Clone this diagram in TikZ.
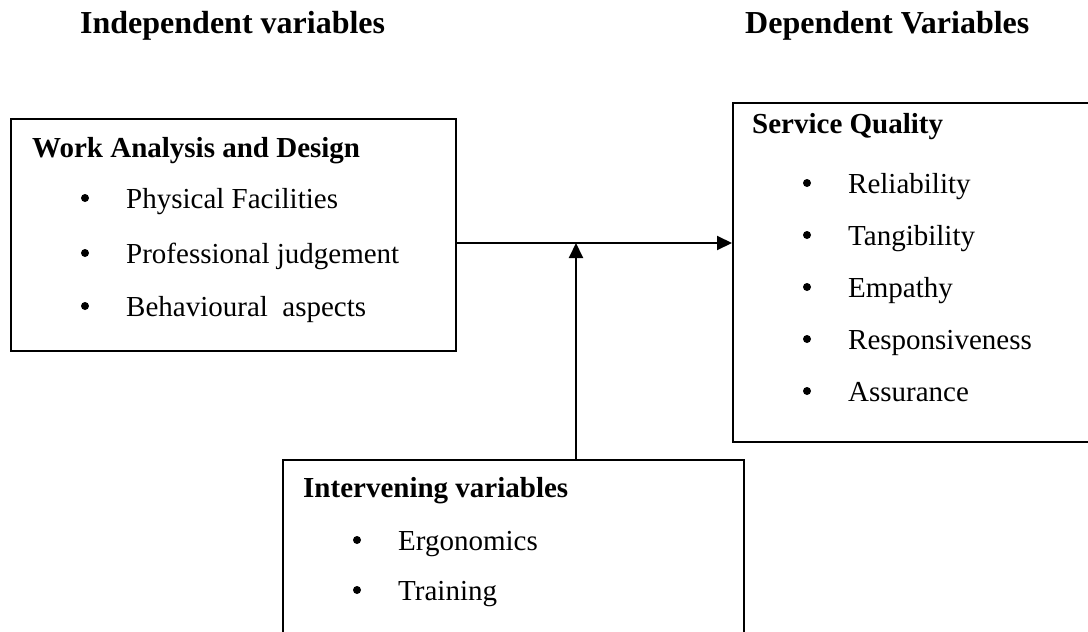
\documentclass[tikz,border=0pt]{standalone}
\usepackage{fontspec}
\setmainfont{Liberation Serif}
\usetikzlibrary{arrows.meta}
\begin{document}
\begin{tikzpicture}[x=1pt,y=-1pt,
  box/.style={draw=black, line width=2pt, inner sep=0pt, anchor=north west},
  txt/.style={inner sep=0pt, anchor=base west, font=\fontsize{29}{35}\selectfont},
  head/.style={txt, font=\fontsize{29}{35}\selectfont\bfseries},
  title/.style={txt, font=\fontsize{32}{38}\selectfont\bfseries},
  bul/.style={circle, fill=black, inner sep=0pt, minimum size=8pt},
  conn/.style={line width=2pt, -{Triangle[length=15pt,width=14pt]}}]
\useasboundingbox (0,0) rectangle (1088,632);
\clip (0,0) rectangle (1088,632);
% headers
\node[title] (hind) at (80,33) {Independent variables};
\node[title] (hdep) at (745,33) {Dependent Variables};
% boxes
\node[box, minimum width=445pt, minimum height=232pt] (wad) at (10,118) {};
\node[box, minimum width=380pt, minimum height=339pt] (sq) at (732,102) {};
\node[box, minimum width=461pt, minimum height=200pt] (iv) at (282,459) {};
% left box text
\node[head] (wadh) at (32,157) {Work Analysis and Design};
\node[bul] (wb1) at (85,198) {};
\node[txt] (wt1) at (126,208) {Physical Facilities};
\node[bul] (wb2) at (85,253) {};
\node[txt] (wt2) at (126,263) {Professional judgement};
\node[bul] (wb3) at (85,306) {};
\node[txt] (wt3) at (126,316) {Behavioural\ \ aspects};
% right box text
\node[head] (sqh) at (752,133) {Service Quality};
\node[bul] (sb1) at (807,183) {};
\node[txt] (st1) at (848,193) {Reliability};
\node[bul] (sb2) at (807,235) {};
\node[txt] (st2) at (848,245) {Tangibility};
\node[bul] (sb3) at (807,287) {};
\node[txt] (st3) at (848,297) {Empathy};
\node[bul] (sb4) at (807,339) {};
\node[txt] (st4) at (848,349) {Responsiveness};
\node[bul] (sb5) at (807,391) {};
\node[txt] (st5) at (848,401) {Assurance};
% bottom box text
\node[head] (ivh) at (303,497) {Intervening variables};
\node[bul] (ib1) at (357,540) {};
\node[txt] (it1) at (398,550) {Ergonomics};
\node[bul] (ib2) at (357,590) {};
\node[txt] (it2) at (398,600) {Training};
% connectors
\coordinate (lvl) at (0,243);
\coordinate (jn) at (576,243);
\draw[conn] (wad.east |- lvl) -- (sq.west |- lvl);
\draw[conn] (iv.north -| jn) -- (jn);
\end{tikzpicture}
\end{document}
